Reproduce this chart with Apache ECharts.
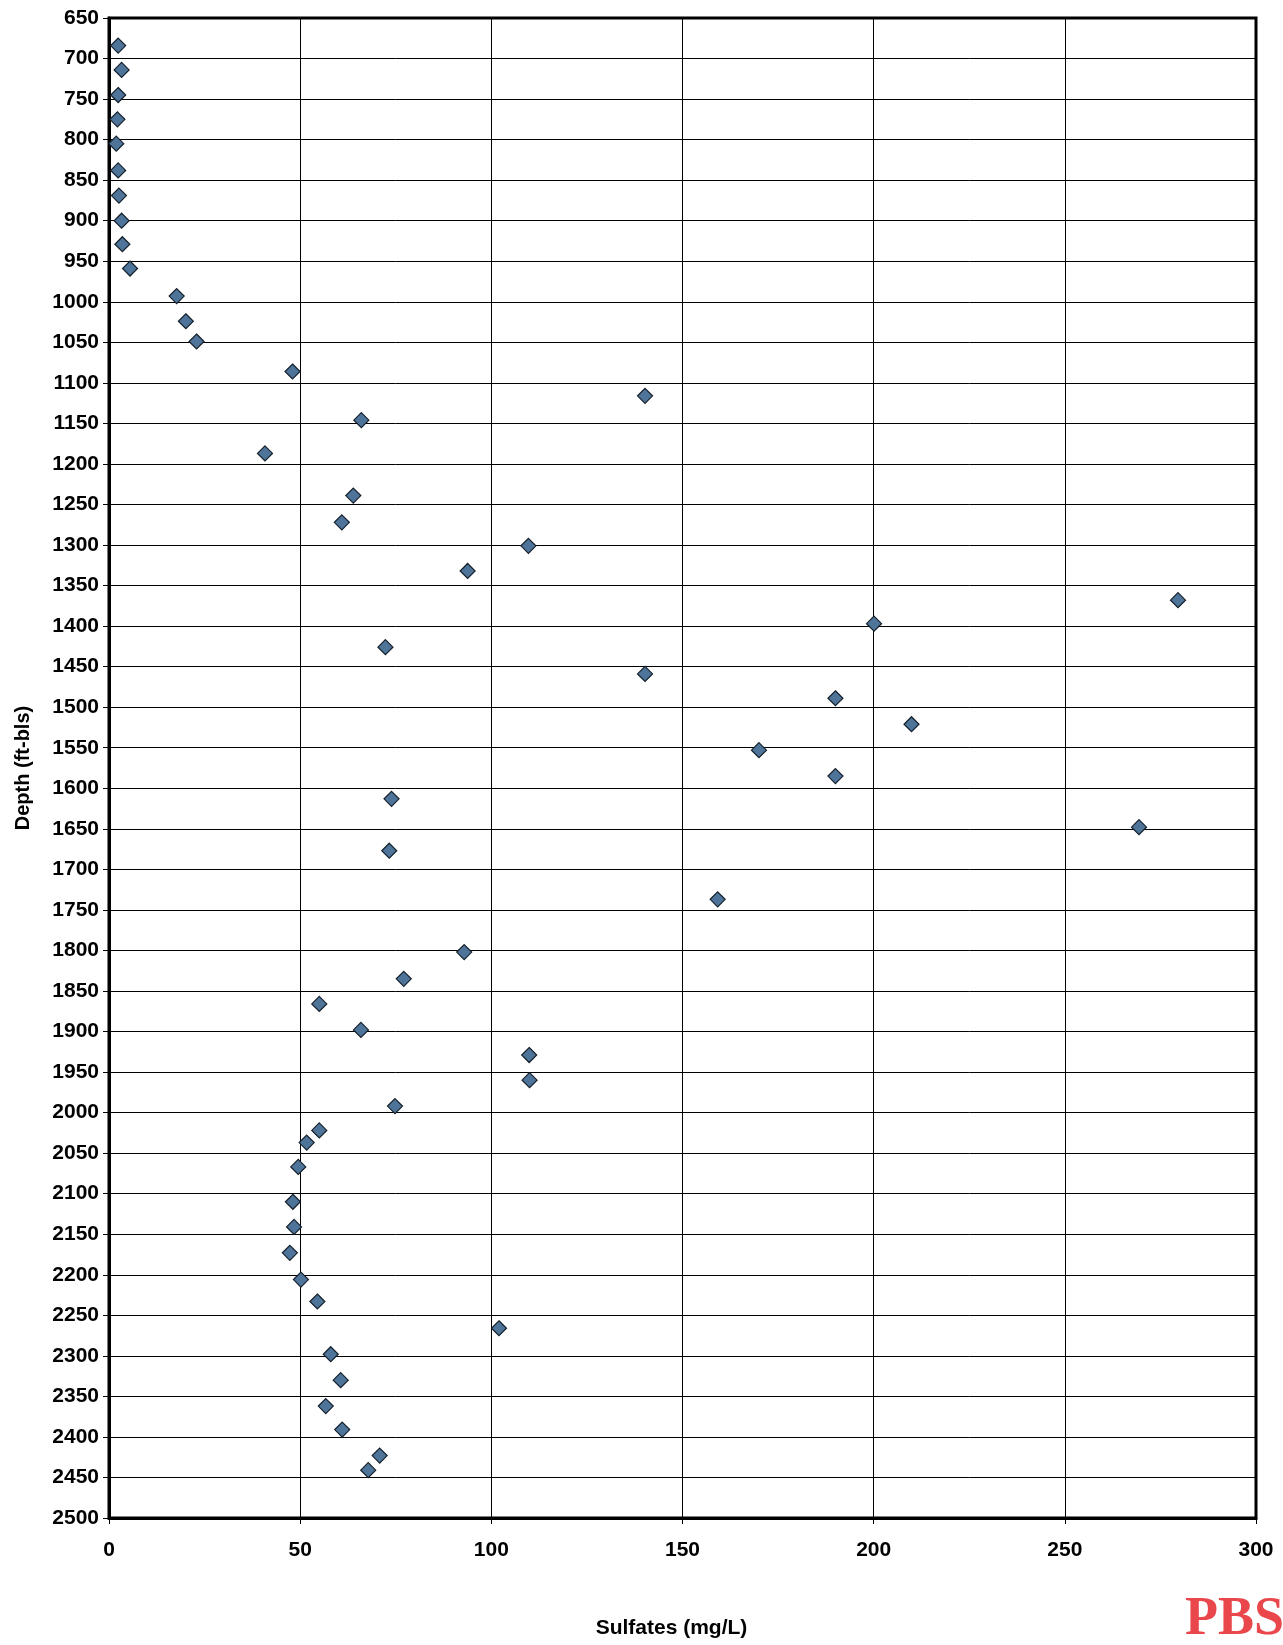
<!DOCTYPE html>
<html>
<head>
<meta charset="utf-8">
<script src="https://cdn.jsdelivr.net/npm/echarts@6/dist/echarts.min.js"></script>
<style>
html,body{margin:0;padding:0;background:#fff;}
#chart{width:1283px;height:1645px;}
</style>
</head>
<body>
<div id="chart"></div>
<script>
// Sulfate concentration (mg/L) versus sample depth (ft-bls)
const sulfates = [2.4,3.3,2.4,2.2,1.9,2.4,2.6,3.3,3.5,5.5,17.7,20.1,22.9,48,140.2,66,40.8,63.9,60.9,109.7,93.8,279.6,200.1,72.3,140.2,190,209.9,170,190,73.9,269.4,73.3,159.2,92.9,77.1,55,65.9,109.9,110,74.8,55,51.7,49.5,48.1,48.4,47.3,50.2,54.5,102,58,60.6,56.7,61,70.8,67.8];
const depths = [684,714,745,775,805,838,869,900,929,959,993,1024,1049,1086,1116,1146,1187,1239,1272,1301,1332,1368,1397,1426,1459,1489,1521,1553,1585,1613,1648,1677,1737,1802,1835,1866,1898,1929,1960,1992,2022,2037,2067,2110,2141,2173,2206,2233,2266,2298,2330,2362,2391,2423,2441];
const xTicks = {min: 0, max: 300, interval: 50};
const yTicks = {min: 650, max: 2500, interval: 50};
const xName = 'Sulfates (mg/L)';
const yName = 'Depth (ft-bls)';
const logoText = 'PBSJ';

const points = sulfates.map((v, i) => [v, depths[i]]);

const chart = echarts.init(document.getElementById('chart'), null, {renderer: 'canvas'});
const font = '"Liberation Sans", Arial, sans-serif';
chart.setOption({
  animation: false,
  backgroundColor: '#fff',
  grid: {left: 109, right: 27, top: 18, bottom: 127, show: true, borderColor: '#000', borderWidth: 3, backgroundColor: '#fff'},
  xAxis: {
    type: 'value', min: xTicks.min, max: xTicks.max, interval: xTicks.interval,
    name: xName, nameLocation: 'middle', nameGap: 100,
    nameTextStyle: {fontFamily: font, fontWeight: 'bold', fontSize: 21, color: '#000', padding: [0, 22, 0, 0]},
    axisLine: {show: true, lineStyle: {color: '#000', width: 3}},
    axisTick: {show: true, length: 6, lineStyle: {color: '#000', width: 1}},
    axisLabel: {fontFamily: font, fontWeight: 'bold', fontSize: 21, color: '#000', margin: 22, formatter: v => String(v)},
    splitLine: {show: true, lineStyle: {color: '#000', width: 1}}
  },
  yAxis: {
    type: 'value', inverse: true, min: yTicks.min, max: yTicks.max, interval: yTicks.interval,
    name: yName, nameLocation: 'middle', nameGap: 76, nameRotate: 90,
    nameTextStyle: {fontFamily: font, fontWeight: 'bold', fontSize: 20, color: '#000'},
    axisLine: {show: true, lineStyle: {color: '#000', width: 3}},
    axisTick: {show: true, length: 6, lineStyle: {color: '#000', width: 1}},
    axisLabel: {fontFamily: font, fontWeight: 'bold', fontSize: 21, color: '#000', margin: 10, formatter: v => String(v)},
    splitLine: {show: true, lineStyle: {color: '#000', width: 1}}
  },
  series: [{
    type: 'scatter',
    data: points,
    symbol: 'diamond',
    symbolSize: 15,
    itemStyle: {color: '#4f7499', borderColor: '#15202b', borderWidth: 1.2, opacity: 1}
  }],
  graphic: [{
    type: 'text', left: 1185, top: 1593,
    style: {text: logoText, font: 'bold 54px "Liberation Serif", "Times New Roman", serif', fill: '#e9474c'}
  }]
});
</script>
</body>
</html>
